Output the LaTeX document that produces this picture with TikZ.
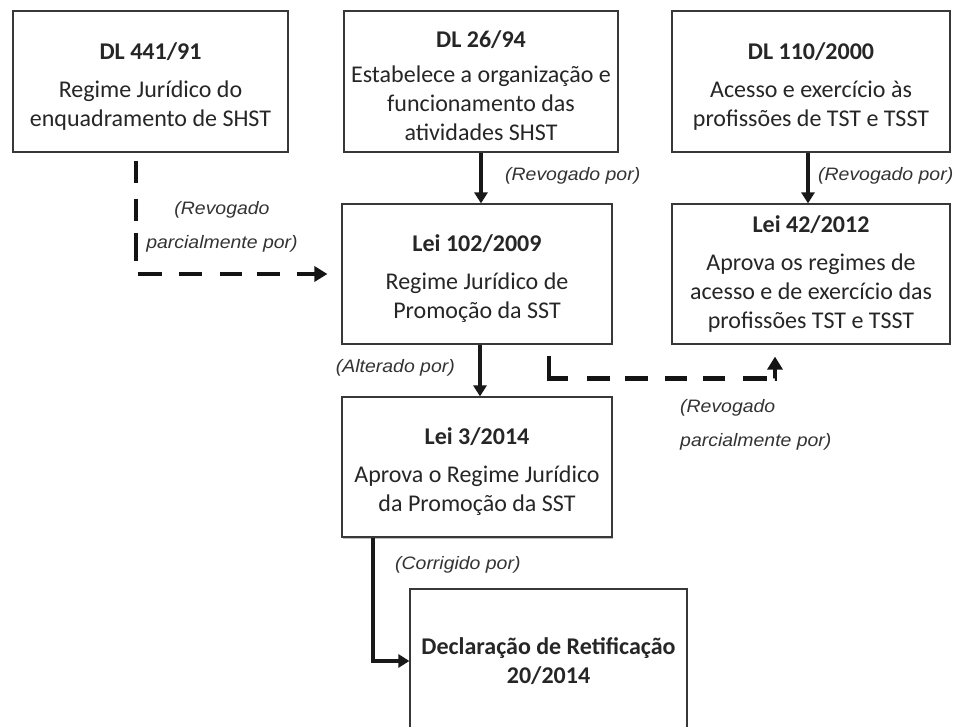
\documentclass[tikz,border=0pt]{standalone}
\usepackage{fontspec}
\setmainfont{Carlito}
\newfontfamily\labfont[FakeStretch=1.08]{Liberation Sans}
\usetikzlibrary{arrows.meta,calc,shadows}
\newcommand\toppad{\rule{0pt}{26pt}}
\begin{document}
\begin{tikzpicture}[x=1pt,y=-1pt,
  box/.style={draw=black!78, line width=1.2pt, fill=white, align=center,
    font=\fontsize{24}{29}\selectfont, text=black!85, inner sep=0pt,
    drop shadow={shadow xshift=1pt, shadow yshift=-1.5pt, fill=black!50, opacity=0.5}},
  lab/.style={font=\labfont\itshape\fontsize{18}{34}\selectfont, text=black!80, inner sep=0pt},
  solidarrow/.style={line width=3.2pt, draw=black!90, -{Triangle[length=11pt,width=13pt]}},
  dasharrow/.style={line width=4.5pt, draw=black!92, -{Triangle[length=13pt,width=15pt]}}]
\path[use as bounding box] (0,0) rectangle (959,727);
\clip (0,0) rectangle (959,727);
\fill[white] (0,0) rectangle (959,727);

\node[box, minimum width=275pt, minimum height=141pt] (b1) at (150.5,81.5)
  {\toppad\textbf{DL 441/91}\\[9pt]Regime Jurídico do\\enquadramento de SHST};
\node[box, minimum width=274pt, minimum height=141pt] (b2) at (481,81.5)
  {\toppad\textbf{DL 26/94}\\[6pt]Estabelece a organização e\\funcionamento das\\atividades SHST};
\node[box, minimum width=278pt, minimum height=141pt] (b3) at (811,81.5)
  {\toppad\textbf{DL 110/2000}\\[9pt]Acesso e exercício às\\profissões de TST e TSST};
\node[box, minimum width=270pt, minimum height=140pt] (b4) at (477,274)
  {\toppad\textbf{Lei 102/2009}\\[9pt]Regime Jurídico de\\Promoção da SST};
\node[box, minimum width=278pt, minimum height=140pt] (b5) at (811,274)
  {\textbf{Lei 42/2012}\\[9pt]Aprova os regimes de\\acesso e de exercício das\\profissões TST e TSST};
\node[box, minimum width=270pt, minimum height=140pt] (b6) at (477,467)
  {\toppad\textbf{Lei 3/2014}\\[9pt]Aprova o Regime Jurídico\\da Promoção da SST};
\node[box, minimum width=277pt, minimum height=144pt] (b7) at (548.5,661)
  {\textbf{Declaração de Retificação}\\\textbf{20/2014}};

% solid connectors
\draw[solidarrow] (b2.south) -- (b2.south |- b4.north);
\draw[solidarrow] ($(b3.south)+(-3,0)$) -- ($(b3.south |- b5.north)+(-3,0)$);
\draw[solidarrow] ($(b4.south)+(3,0)$) -- ($(b6.north)+(3,0)$);
\draw[solidarrow] ($(b6.south)+(-104,0)$) |- (b7.west);

% dashed connectors
\draw[dasharrow, dash pattern=on 22pt off 16pt on 22pt off 12pt on 28pt off 15pt on 24pt off 17pt on 23pt off 18pt on 22pt off 15pt on 23pt off 17pt on 40pt]
  ($(b1.south)+(-14.5,8)$) |- ($(b4.west)+(-14,0)$);
\draw[dasharrow, dash pattern=on 42pt off 19pt on 23pt off 15pt on 23pt off 17pt on 22pt off 16pt on 22pt off 18pt on 24pt off 8pt on 40pt]
  ($(b4.south)+(72,11)$) -- ++(0,23) -| ($(b5.south)+(-36,12)$);

% labels
\node[lab, anchor=west] (l1) at (505,176) {(Revogado por)};
\node[lab, anchor=west] (l2) at (818,176) {(Revogado por)};
\node[lab, align=center] (l3) at (222,226.5) {(Revogado\\parcialmente por)};
\node[lab, anchor=east] (l4) at (455,368) {(Alterado por)};
\node[lab, align=left, anchor=west] (l5) at (680,424.5) {(Revogado\\parcialmente por)};
\node[lab, anchor=west] (l6) at (395,565) {(Corrigido por)};
\end{tikzpicture}
\end{document}
